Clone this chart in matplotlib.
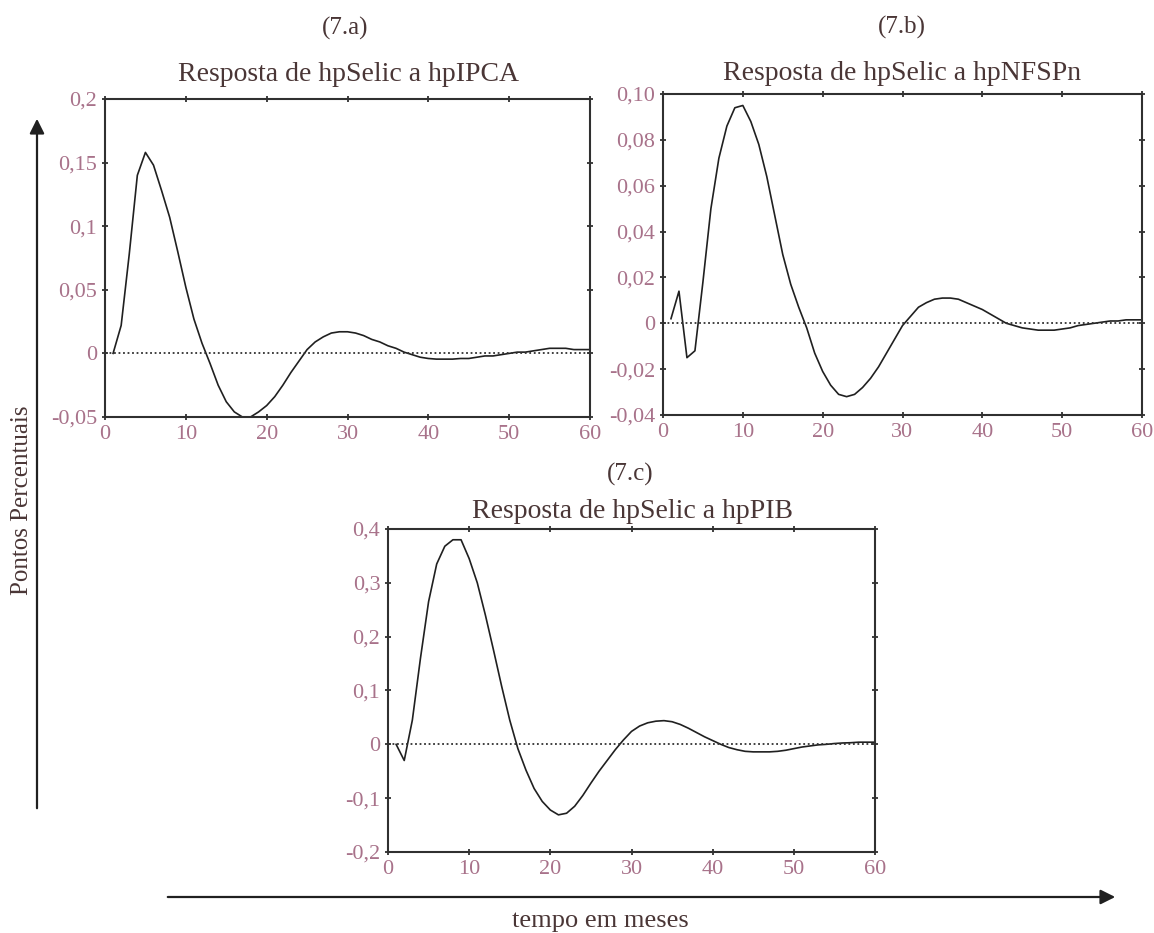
import numpy as np
import matplotlib
matplotlib.use('Agg')
from matplotlib import pyplot as plt

# respostas ao impulso (pontos percentuais), meses 1..60
meses = np.arange(1, 61)

ipca = [0.0, 0.022, 0.078, 0.14, 0.158, 0.148, 0.128, 0.107, 0.08, 0.052,
        0.027, 0.008, -0.008, -0.025, -0.038, -0.046, -0.05, -0.05, -0.046, -0.041,
        -0.034, -0.025, -0.015, -0.006, 0.003, 0.009, 0.013, 0.016, 0.017, 0.017,
        0.016, 0.014, 0.011, 0.009, 0.006, 0.004, 0.001, -0.001, -0.003, -0.004,
        -0.0045, -0.0045, -0.0045, -0.004, -0.004, -0.003, -0.002, -0.002, -0.001, 0.0,
        0.001, 0.001, 0.002, 0.003, 0.004, 0.004, 0.004, 0.003, 0.003, 0.003]

nfspn = [0.002, 0.014, -0.015, -0.012, 0.018, 0.05, 0.072, 0.086, 0.094, 0.095,
         0.088, 0.078, 0.064, 0.047, 0.03, 0.017, 0.007, -0.002, -0.013, -0.021,
         -0.027, -0.031, -0.032, -0.031, -0.028, -0.024, -0.019, -0.013, -0.007, -0.001,
         0.003, 0.007, 0.009, 0.0105, 0.011, 0.011, 0.0105, 0.009, 0.0075, 0.006,
         0.004, 0.002, 0.0, -0.001, -0.002, -0.0025, -0.003, -0.003, -0.003, -0.0025,
         -0.002, -0.001, -0.0005, 0.0, 0.0005, 0.001, 0.001, 0.0015, 0.0015, 0.0015]

pib = [0.0, -0.03, 0.045, 0.16, 0.265, 0.335, 0.368, 0.38, 0.38, 0.345,
       0.3, 0.24, 0.175, 0.108, 0.045, -0.008, -0.048, -0.082, -0.106, -0.122,
       -0.131, -0.128, -0.115, -0.095, -0.072, -0.05, -0.03, -0.01, 0.008, 0.024,
       0.034, 0.04, 0.043, 0.044, 0.042, 0.037, 0.03, 0.022, 0.014, 0.007,
       0.0, -0.006, -0.01, -0.013, -0.014, -0.014, -0.014, -0.013, -0.011, -0.008,
       -0.005, -0.003, -0.001, 0.0, 0.0015, 0.0025, 0.003, 0.004, 0.004, 0.004]

ticks_x = [0, 10, 20, 30, 40, 50, 60]

ticks_a = [-0.05, 0, 0.05, 0.1, 0.15, 0.2]
rotulos_a = ['-0,05', '0', '0,05', '0,1', '0,15', '0,2']
ticks_b = [-0.04, -0.02, 0, 0.02, 0.04, 0.06, 0.08, 0.10]
rotulos_b = ['-0,04', '-0,02', '0', '0,02', '0,04', '0,06', '0,08', '0,10']
ticks_c = [-0.2, -0.1, 0, 0.1, 0.2, 0.3, 0.4]
rotulos_c = ['-0,2', '-0,1', '0', '0,1', '0,2', '0,3', '0,4']

W, H = 1154, 933
fonte = 'Liberation Serif'
cor_titulo = '#4a3636'
cor_ticks = '#a8728a'

fig = plt.figure(figsize=(W / 100, H / 100), dpi=100)
fig.patch.set_facecolor('white')


def caixa(x0, y0, x1, y1):
    # retangulo em pixels (origem no topo) -> fracao da figura
    return [x0 / W, 1 - y1 / H, (x1 - x0) / W, (y1 - y0) / H]


def painel(rect, y, ticks, rotulos):
    ax = fig.add_axes(rect)
    ax.plot(meses, y, color='#202020', lw=1.2)
    ax.axhline(0, color='#303030', lw=1.3, ls=(0, (1, 1.5)))
    ax.set_xlim(0, 60)
    ax.set_ylim(ticks[0], ticks[-1])
    ax.set_xticks(ticks_x)
    ax.set_xticklabels([str(t) for t in ticks_x])
    ax.set_yticks(ticks)
    ax.set_yticklabels(rotulos)
    ax.tick_params(direction='inout', length=5, width=1.3, top=True, right=True,
                   labelsize=16, labelcolor=cor_ticks, color='#303030', pad=3)
    for lab in ax.get_xticklabels() + ax.get_yticklabels():
        lab.set_family(fonte)
    for s in ['top', 'bottom', 'left', 'right']:
        ax.spines[s].set_linewidth(1.5)
        ax.spines[s].set_color('#303030')
    return ax


ax_a = painel(caixa(105, 99, 590, 417), ipca, ticks_a, rotulos_a)
ax_b = painel(caixa(663, 94, 1142, 415), nfspn, ticks_b, rotulos_b)
ax_c = painel(caixa(388, 529, 875, 852), pib, ticks_c, rotulos_c)


def texto(x, y, s, tam, **kw):
    fig.text(x / W, 1 - y / H, s, fontsize=tam, family=fonte, color=cor_titulo,
             ha='center', va='baseline', **kw)


texto(345, 35, '(7.a)', 18)
texto(348, 81, 'Resposta de hpSelic a hpIPCA', 20)
texto(902, 34, '(7.b)', 18)
texto(902, 80, 'Resposta de hpSelic a hpNFSPn', 20)
texto(630, 481, '(7.c)', 18)
texto(632, 518, 'Resposta de hpSelic a hpPIB', 20)
texto(600, 927, 'tempo em meses', 19)
fig.text(22 / W, 1 - 500 / H, 'Pontos Percentuais', fontsize=18, family=fonte,
         color=cor_titulo, rotation=90, ha='center', va='center')

# eixos com setas
fig.add_artist(matplotlib.patches.FancyArrowPatch(
    (37 / W, 1 - 811 / H), (37 / W, 1 - 116 / H), transform=fig.transFigure,
    arrowstyle='-|>', mutation_scale=22, lw=1.6, color='#202020'))
fig.add_artist(matplotlib.patches.FancyArrowPatch(
    (165 / W, 1 - 897 / H), (1118 / W, 1 - 897 / H), transform=fig.transFigure,
    arrowstyle='-|>', mutation_scale=22, lw=1.6, color='#202020'))

plt.savefig('out.png', dpi=100, facecolor='white')
